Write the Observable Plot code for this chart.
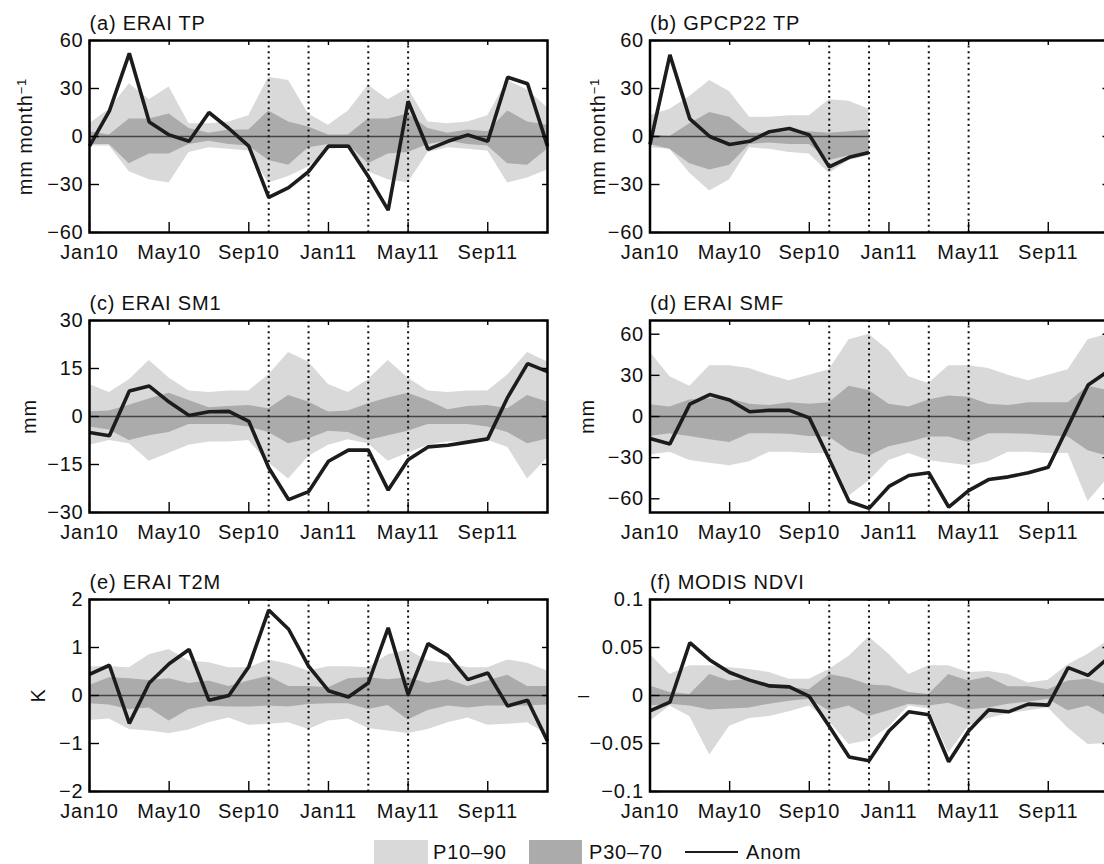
<!DOCTYPE html>
<html><head><meta charset="utf-8">
<script src="https://cdn.jsdelivr.net/npm/d3@7"></script>
<script src="https://cdn.jsdelivr.net/npm/@observablehq/plot@0.6"></script>
<style>
html,body{margin:0;padding:0;background:#fff;overflow:hidden;}
#fig{position:relative;width:1104px;height:864px;overflow:hidden;font-family:"Liberation Sans",Arial,sans-serif;background:#fff;}
.panel{position:absolute;}
.lg{position:absolute;font-size:20px;letter-spacing:0.8px;line-height:24px;color:#111;white-space:nowrap;}
</style></head><body><div id="fig"></div><script>
// ---- axis / time data ----
const months = ["Jan10","Feb10","Mar10","Apr10","May10","Jun10","Jul10","Aug10","Sep10","Oct10","Nov10","Dec10",
                "Jan11","Feb11","Mar11","Apr11","May11","Jun11","Jul11","Aug11","Sep11","Oct11","Nov11","Dec11"];
const tickMonths = [0, 4, 8, 12, 16, 20];
const tickLabels = ["Jan10","May10","Sep10","Jan11","May11","Sep11"];
const eventMonths = [9, 11, 14, 16];

// ---- (a) ERAI TP ----
const eraiTpAnom = [-6, 16, 52, 9, 1, -3, 15, 5, -6, -38, -32, -22, -6, -6, -25, -46, 22, -8, -3, 1, -3, 37, 33, -6];
const eraiTpP90 = [8, 17, 33, 23, 31, 8, 8, 9, 13, 37, 35, 14, 7, 16, 32, 23, 30, 9, 8, 9, 13, 35, 29, 18];
const eraiTpP70 = [3, 1, 11, 11, 14, 5, 2, 4, 4, 16, 9, 6, 1, 1, 11, 11, 14, 5, 2, 4, 3, 16, 9, 7];
const eraiTpP30 = [-5, -5, -17, -11, -11, -5, -3, -5, -6, -15, -18, -7, -5, -5, -17, -11, -10, -5, -3, -5, -6, -17, -18, -8];
const eraiTpP10 = [-6, -6, -22, -27, -29, -10, -7, -8, -9, -29, -25, -19, -8, -7, -22, -27, -29, -10, -7, -8, -9, -29, -26, -21];

// ---- (b) GPCP22 TP (Jan10-Dec10 only) ----
const gpcpTpAnom = [-5, 51, 11, 0, -5, -3, 3, 5, 1, -19, -13, -10];
const gpcpTpP90 = [13, 17, 25, 35, 28, 12, 12, 13, 13, 23, 22, 17];
const gpcpTpP70 = [1, 0, 8, 15, 12, 2, 2, 3, 3, 2, 3, 4];
const gpcpTpP30 = [-5, -8, -17, -21, -18, -5, -4, -5, -5, -15, -12, -10];
const gpcpTpP10 = [-7, -8, -23, -34, -27, -7, -8, -10, -11, -23, -15, -12];

// ---- (c) ERAI SM1 ----
const sm1Anom = [-5, -6, 8, 9.5, 4.5, 0.3, 1.5, 1.6, -1.5, -16, -26, -23.5, -14, -10.5, -10.5, -23, -13.5, -9.5, -9, -8, -7, 6, 16.5, 14];
const sm1P90 = [10, 7.5, 11.5, 17.5, 12, 8, 7.5, 8, 8, 13, 20, 17, 10, 7.5, 11.5, 17.5, 12, 8, 7.5, 8, 8, 13, 20, 17];
const sm1P70 = [1.5, 1.7, 3.5, 5.5, 7.3, 5, 2.7, 3.1, 3.4, 2.4, 6.6, 4.5, 1.4, 1.7, 4, 5.8, 7.3, 5, 2.1, 3.1, 3.4, 2.4, 6.6, 4.5];
const sm1P30 = [-3.3, -4.2, -7.5, -6, -5, -2.5, -2.5, -2.5, -3.3, -5, -8.5, -7, -4.6, -5, -7.5, -6, -4.6, -2.5, -2.5, -2.5, -3.3, -5, -8.5, -7];
const sm1P10 = [-9, -7.5, -8.5, -14, -11.5, -9, -8, -8, -7.5, -14.5, -19.5, -12.5, -9, -7.3, -8.5, -14, -11.5, -9, -8, -8, -7.5, -9.6, -19.5, -13];

// ---- (d) ERAI SMF ----
const smfAnom = [-16, -20, 9, 16, 12, 3.5, 4.5, 4.5, -1, -31, -62, -67, -51, -43, -41, -66, -54, -46, -44, -41, -37, -7, 23, 33];
const smfP90 = [47, 29, 22, 37, 37, 35, 30, 26, 30, 34, 56, 60, 48, 29, 24, 37, 37, 35, 30, 26, 30, 34, 56, 60];
const smfP70 = [8.5, 7, 12, 13, 13, 9, 8, 10, 9, 10, 22, 19, 9, 7, 12, 15, 14, 9, 8, 10, 10, 10, 22, 19];
const smfP30 = [-14.5, -12.5, -14.5, -17, -19, -12.5, -12.5, -13, -14.5, -15, -25, -29, -22, -19, -15, -15, -19, -12.5, -12.5, -13, -14, -15, -25, -29];
const smfP10 = [-28, -26, -32, -34, -36, -33, -26, -26, -27, -27, -58, -47, -32, -27, -32, -34, -36, -33, -26, -26, -27, -27, -62, -45];

// ---- (e) ERAI T2M ----
const t2mAnom = [0.44, 0.63, -0.58, 0.26, 0.66, 0.96, -0.1, 0, 0.6, 1.78, 1.38, 0.61, 0.1, -0.03, 0.26, 1.41, 0.02, 1.08, 0.83, 0.33, 0.47, -0.22, -0.1, -0.95];
const t2mP90 = [0.6, 0.6, 0.58, 0.85, 0.96, 0.72, 0.68, 0.58, 0.58, 0.74, 0.65, 0.51, 0.6, 0.6, 0.58, 0.85, 0.95, 0.72, 0.67, 0.58, 0.58, 0.74, 0.67, 0.51];
const t2mP70 = [0.21, 0.37, 0.35, 0.31, 0.35, 0.25, 0.3, 0.19, 0.3, 0.4, 0.19, 0.19, 0.16, 0.35, 0.37, 0.33, 0.37, 0.25, 0.33, 0.19, 0.3, 0.42, 0.19, 0.19];
const t2mP30 = [-0.17, -0.2, -0.29, -0.26, -0.53, -0.29, -0.22, -0.24, -0.24, -0.22, -0.24, -0.19, -0.17, -0.17, -0.29, -0.21, -0.51, -0.31, -0.22, -0.26, -0.22, -0.22, -0.22, -0.2];
const t2mP10 = [-0.52, -0.49, -0.71, -0.74, -0.79, -0.72, -0.57, -0.47, -0.62, -0.6, -0.57, -0.71, -0.53, -0.49, -0.69, -0.74, -0.79, -0.71, -0.57, -0.47, -0.62, -0.6, -0.57, -0.81];

// ---- (f) MODIS NDVI ----
const ndviAnom = [-0.016, -0.007, 0.055, 0.037, 0.024, 0.016, 0.01, 0.009, -0.001, -0.032, -0.064, -0.068, -0.037, -0.017, -0.02, -0.069, -0.037, -0.015, -0.017, -0.009, -0.01, 0.029, 0.021, 0.039];
const ndviP90 = [0.043, 0.022, 0.031, 0.031, 0.029, 0.027, 0.024, 0.017, 0.017, 0.027, 0.041, 0.061, 0.043, 0.022, 0.031, 0.031, 0.024, 0.025, 0.022, 0.013, 0.016, 0.032, 0.043, 0.057];
const ndviP70 = [0.01, 0.003, 0.001, 0.022, 0.015, 0.017, 0.009, 0.008, 0.006, 0.022, 0.018, 0.011, 0.01, 0.003, 0.001, 0.022, 0.015, 0.019, 0.009, 0.009, 0.006, 0.015, 0.017, 0.011];
const ndviP30 = [-0.011, -0.009, -0.011, -0.015, -0.014, -0.013, -0.009, -0.006, -0.004, -0.016, -0.011, -0.022, -0.016, -0.009, -0.011, -0.008, -0.015, -0.013, -0.009, -0.007, -0.004, -0.016, -0.011, -0.022];
const ndviP10 = [-0.027, -0.011, -0.022, -0.062, -0.032, -0.024, -0.022, -0.017, -0.011, -0.027, -0.051, -0.047, -0.033, -0.011, -0.014, -0.06, -0.032, -0.024, -0.019, -0.016, -0.013, -0.034, -0.051, -0.05];

const rows = (anom, p10, p30, p70, p90) =>
  anom.map((a, i) => ({m: i, month: months[i], anom: a, p10: p10[i], p30: p30[i], p70: p70[i], p90: p90[i]}));

const FONT = "'Liberation Sans', Arial, sans-serif";
const minus = d => d < 0 ? "\u2212" + String(-d) : String(d);

function panel(cfg) {
  const W = 560, H = 280, mL = cfg.mL, mR = W - mL - 458, mT = 40, mB = 48;
  const pw = W - mL - mR, ph = H - mT - mB;
  const lastM = cfg.data[cfg.data.length - 1].m;
  const ylab = cfg.ylabelRotate === 0
    ? Plot.text([cfg.ylabel], {frameAnchor: "left", textAnchor: "end", lineAnchor: "middle", dx: cfg.ylabelDx, fill: "#111"})
    : Plot.text([cfg.ylabel], {frameAnchor: "left", rotate: -90, textAnchor: "middle", lineAnchor: "bottom", dx: cfg.ylabelDx, fill: "#111"});
  return Plot.plot({
    width: W, height: H, marginLeft: mL, marginRight: mR, marginTop: mT, marginBottom: mB,
    style: `font-family: ${FONT}; font-size: 20px; letter-spacing: 0.8px; overflow: visible; background: transparent; color: #111;`,
    x: {domain: [0, 23]},
    y: {domain: cfg.domain},
    marks: [
      Plot.areaY(cfg.data, {x: "m", y1: "p10", y2: "p90", fill: "#d9d9d9"}),
      Plot.areaY(cfg.data, {x: "m", y1: "p30", y2: "p70", fill: "#ababab"}),
      Plot.ruleY([0], {x1: 0, x2: lastM, stroke: "#444", strokeWidth: 1.6}),
      Plot.ruleX(eventMonths, {stroke: "#111", strokeWidth: 2, strokeDasharray: "2,3.6"}),
      Plot.lineY(cfg.data, {x: "m", y: "anom", stroke: "#1c1c1c", strokeWidth: 3.6, strokeLinejoin: "miter", strokeLinecap: "butt"}),
      Plot.ruleX(tickMonths, {insetTop: ph - 10, stroke: "#000", strokeWidth: 1.4}),
      Plot.ruleX(tickMonths, {insetBottom: ph - 5, stroke: "#000", strokeWidth: 1.4}),
      Plot.ruleY(cfg.ticks, {insetRight: pw - 10, stroke: "#000", strokeWidth: 1.4}),
      Plot.ruleY(cfg.ticks, {insetLeft: pw - 5, stroke: "#000", strokeWidth: 1.4}),
      Plot.axisX({ticks: tickMonths, tickFormat: d => tickLabels[tickMonths.indexOf(d)], tickSize: 0, tickPadding: 12, label: null, fill: "#111"}),
      Plot.axisY({ticks: cfg.ticks, tickFormat: minus, tickSize: 0, tickPadding: 6, label: null, fill: "#111"}),
      Plot.frame({stroke: "#000", strokeWidth: 2.5}),
      Plot.text([cfg.title], {frameAnchor: "top-left", textAnchor: "start", lineAnchor: "bottom", dy: -10.5, fill: "#111"}),
      ylab
    ]
  });
}

const panels = [
  {title: "(a) ERAI TP", ylabel: "mm month\u207B\u00B9", ylabelDx: -58, domain: [-60, 60], ticks: [-60, -30, 0, 30, 60],
   data: rows(eraiTpAnom, eraiTpP10, eraiTpP30, eraiTpP70, eraiTpP90), left: 0, top: 0, mL: 89},
  {title: "(b) GPCP22 TP", ylabel: "mm month\u207B\u00B9", ylabelDx: -45, domain: [-60, 60], ticks: [-60, -30, 0, 30, 60],
   data: rows(gpcpTpAnom, gpcpTpP10, gpcpTpP30, gpcpTpP70, gpcpTpP90), left: 560, top: 0, mL: 89.5},
  {title: "(c) ERAI SM1", ylabel: "mm", ylabelDx: -54, domain: [-30, 30], ticks: [-30, -15, 0, 15, 30],
   data: rows(sm1Anom, sm1P10, sm1P30, sm1P70, sm1P90), left: 0, top: 280, mL: 89},
  {title: "(d) ERAI SMF", ylabel: "mm", ylabelDx: -56, domain: [-70, 70], ticks: [-60, -30, 0, 30, 60],
   data: rows(smfAnom, smfP10, smfP30, smfP70, smfP90), left: 560, top: 280, mL: 89.5},
  {title: "(e) ERAI T2M", ylabel: "K", ylabelDx: -45, domain: [-2, 2], ticks: [-2, -1, 0, 1, 2],
   data: rows(t2mAnom, t2mP10, t2mP30, t2mP70, t2mP90), left: 0, top: 559, mL: 89},
  {title: "(f) MODIS NDVI", ylabel: "\u2013", ylabelRotate: 0, ylabelDx: -60, domain: [-0.1, 0.1], ticks: [-0.1, -0.05, 0, 0.05, 0.1],
   data: rows(ndviAnom, ndviP10, ndviP30, ndviP70, ndviP90), left: 560, top: 559, mL: 89.5}
];

const fig = document.getElementById("fig");
for (const cfg of panels) {
  const svg = panel(cfg);
  svg.classList.add("panel");
  svg.style.left = cfg.left + "px";
  svg.style.top = cfg.top + "px";
  svg.style.maxWidth = "none";
  // superscript for the unit label
  svg.querySelectorAll("text").forEach(t => {
    if (t.textContent === "mm month\u207B\u00B9") {
      t.textContent = "mm month";
      const ts = document.createElementNS("http://www.w3.org/2000/svg", "tspan");
      ts.setAttribute("dy", "-0.45em");
      ts.setAttribute("font-size", "13px");
      ts.textContent = "\u22121";
      t.appendChild(ts);
    }
  });
  fig.appendChild(svg);
}

// ---- legend ----
const legendItems = [
  {kind: "swatch", color: "#d9d9d9", label: "P10\u201390", x: 374, w: 54, tx: 433},
  {kind: "swatch", color: "#ababab", label: "P30\u201370", x: 529, w: 53, tx: 589},
  {kind: "line", color: "#1c1c1c", label: "Anom", x: 685, w: 53, tx: 746}
];
for (const it of legendItems) {
  const s = document.createElement("div");
  s.style.position = "absolute";
  s.style.left = it.x + "px";
  s.style.width = it.w + "px";
  s.style.background = it.color;
  if (it.kind === "swatch") { s.style.top = "840px"; s.style.height = "24px"; }
  else { s.style.top = "851px"; s.style.height = "2px"; }
  fig.appendChild(s);
  const t = document.createElement("div");
  t.className = "lg";
  t.style.left = it.tx + "px";
  t.style.top = "840px";
  t.textContent = it.label;
  fig.appendChild(t);
}
</script></body></html>
